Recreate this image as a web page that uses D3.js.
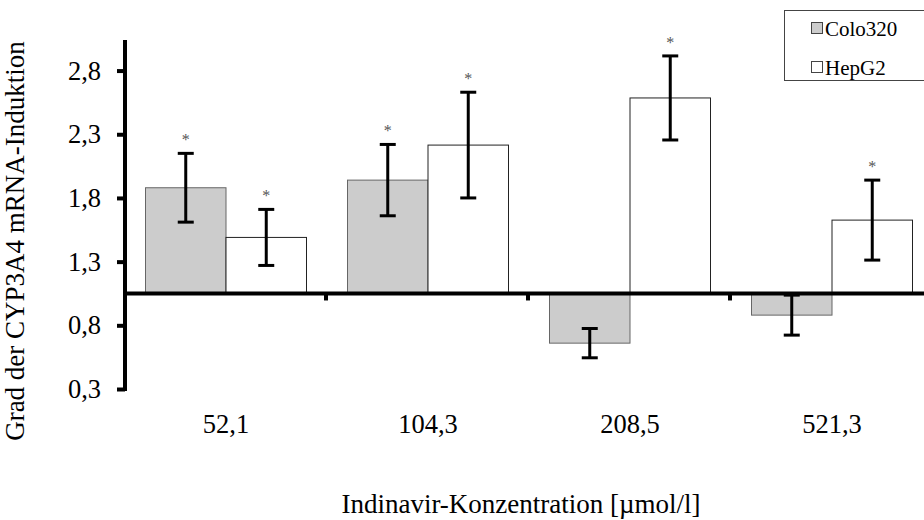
<!DOCTYPE html>
<html>
<head>
<meta charset="utf-8">
<script src="https://cdn.jsdelivr.net/npm/d3@7"></script>
<style>
  html, body { margin: 0; padding: 0; background: #ffffff; }
  svg { display: block; }
  svg text { font-family: "Liberation Serif", "Times New Roman", serif; }
</style>
</head>
<body>
<svg id="chart" width="924" height="520"></svg>
<script>
// ---- data ----
const categories = ["52,1", "104,3", "208,5", "521,3"];
const seriesNames = ["Colo320", "HepG2"];
const colo320Values = [1.88, 1.94, 0.66, 0.88];
const colo320Errors = [0.27, 0.28, 0.115, 0.157];
const hepg2Values = [1.49, 2.215, 2.585, 1.626];
const hepg2Errors = [0.22, 0.415, 0.33, 0.314];
const colo320Sig = [true, true, false, false];
const hepg2Sig = [true, true, true, true];
const yTickValues = [0.3, 0.8, 1.3, 1.8, 2.3, 2.8];
const baselineValue = 1.05;
const yTitle = "Grad der CYP3A4 mRNA-Induktion";
const xTitle = "Indinavir-Konzentration [µmol/l]";

const seriesData = [
  { name: seriesNames[0], values: colo320Values, errors: colo320Errors, sig: colo320Sig, fill: "#cccccc", stroke: "#666666" },
  { name: seriesNames[1], values: hepg2Values, errors: hepg2Errors, sig: hepg2Sig, fill: "#ffffff", stroke: "#222222" }
];

const rows = [];
categories.forEach((c, i) => {
  seriesData.forEach(s => {
    rows.push({ cat: c, series: s.name, value: s.values[i], err: s.errors[i], sig: s.sig[i], fill: s.fill, stroke: s.stroke });
  });
});

const svg = d3.select("#chart");
const FONT = "Liberation Serif";

// ---- scales ----
const y = d3.scaleLinear().domain([0.3, 3.04]).range([389, 40]);
const x0 = d3.scaleBand().domain(categories).range([125, 933]).padding(0);
const x1 = d3.scaleBand().domain(seriesNames).range([20.5, 181.5]).padding(0);

// ---- bars ----
const bars = svg.append("g");
bars.selectAll("rect").data(rows).join("rect")
  .attr("x", d => x0(d.cat) + x1(d.series))
  .attr("width", x1.bandwidth())
  .attr("y", d => Math.min(y(d.value), y(baselineValue)))
  .attr("height", d => Math.abs(y(d.value) - y(baselineValue)))
  .attr("fill", d => d.fill)
  .attr("stroke", d => d.stroke)
  .attr("stroke-width", 1);

// ---- error bars ----
const errG = svg.append("g").attr("stroke", "#000").attr("stroke-width", 3);
const capW = 8;
rows.forEach(d => {
  const cx = x0(d.cat) + x1(d.series) + x1.bandwidth() / 2;
  const yt = y(d.value + d.err), yb = y(d.value - d.err);
  errG.append("line").attr("x1", cx).attr("x2", cx).attr("y1", yt).attr("y2", yb);
  errG.append("line").attr("x1", cx - capW).attr("x2", cx + capW).attr("y1", yt).attr("y2", yt);
  errG.append("line").attr("x1", cx - capW).attr("x2", cx + capW).attr("y1", yb).attr("y2", yb);
});

// ---- significance stars ----
svg.append("g").selectAll("text").data(rows.filter(d => d.sig)).join("text")
  .attr("x", d => x0(d.cat) + x1(d.series) + x1.bandwidth() / 2)
  .attr("y", d => y(d.value + d.err) - 8)
  .attr("text-anchor", "middle")
  .attr("font-family", FONT)
  .attr("font-size", 16)
  .attr("fill", "#555")
  .text("*");

// ---- y axis ----
const yAxis = d3.axisLeft(y).tickValues(yTickValues).tickSize(8).tickPadding(16)
  .tickFormat(d => d3.format(".1f")(d).replace(".", ","));
const yg = svg.append("g").attr("transform", "translate(125,0)").call(yAxis);
yg.attr("font-family", FONT).attr("font-size", 26.5);
yg.select(".domain").attr("d", `M0,${y.range()[1]}V${y.range()[0] + 2}`).attr("stroke", "#000").attr("stroke-width", 4);
yg.selectAll(".tick line").attr("stroke", "#000").attr("stroke-width", 4);
yg.selectAll(".tick text").attr("fill", "#000");

// ---- x axis (baseline) ----
const xg = svg.append("g").attr("transform", `translate(0,${y(baselineValue)})`);
xg.append("line").attr("x1", 123).attr("x2", 924).attr("y1", 0).attr("y2", 0)
  .attr("stroke", "#000").attr("stroke-width", 4);
xg.selectAll("line.tk").data(categories.slice(1)).join("line").attr("class", "tk")
  .attr("x1", d => x0(d) - 1).attr("x2", d => x0(d) - 1).attr("y1", 0).attr("y2", 7)
  .attr("stroke", "#000").attr("stroke-width", 4);

// ---- category labels ----
svg.append("g").selectAll("text").data(categories).join("text")
  .attr("x", d => x0(d) + x0.bandwidth() / 2)
  .attr("y", 433)
  .attr("text-anchor", "middle")
  .attr("font-family", FONT)
  .attr("font-size", 26.5)
  .text(d => d);

// ---- axis titles ----
svg.append("text").attr("x", 521).attr("y", 513).attr("text-anchor", "middle")
  .attr("font-family", FONT).attr("font-size", 27).text(xTitle);
svg.append("text").attr("transform", "translate(24,241) rotate(-90)").attr("text-anchor", "middle")
  .attr("font-family", FONT).attr("font-size", 27).text(yTitle);

// ---- legend ----
const lg = svg.append("g");
lg.append("rect").attr("x", 784.5).attr("y", 10.5).attr("width", 145).attr("height", 70)
  .attr("fill", "#fff").attr("stroke", "#444").attr("stroke-width", 1);
seriesData.forEach((s, i) => {
  const cy = 28 + i * 39;
  lg.append("rect").attr("x", 811.5).attr("y", cy - 5.5).attr("width", 11).attr("height", 11)
    .attr("fill", s.fill).attr("stroke", "#444").attr("stroke-width", 1);
  lg.append("text").attr("x", 825).attr("y", cy + 8).attr("font-family", FONT).attr("font-size", 21).text(s.name);
});
</script>
</body>
</html>
